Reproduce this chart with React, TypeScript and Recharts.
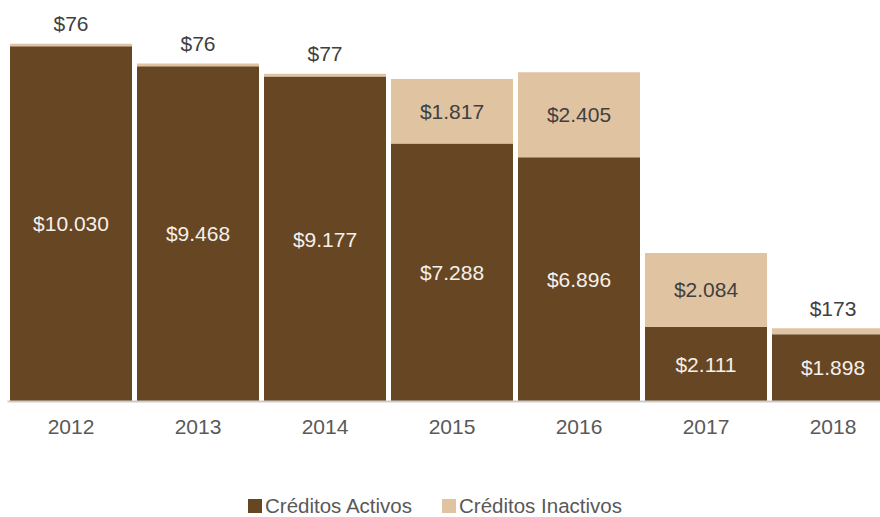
import React from "react";
import { BarChart, Bar, XAxis, YAxis, Legend, LabelList } from "recharts";

const years = ["2012", "2013", "2014", "2015", "2016", "2017", "2018"];
const activos = [10030, 9468, 9177, 7288, 6896, 2111, 1898];
const inactivos = [76, 76, 77, 1817, 2405, 2084, 173];

const DARK = "#674624";
const LIGHT = "#E0C3A0";
const FONT = "'Liberation Sans', Arial, sans-serif";

const data = years.map((year, i) => ({ year, activos: activos[i], inactivos: inactivos[i] }));

const fmt = (v: number) => "$" + String(v).replace(/\B(?=(\d{3})+(?!\d))/g, ".");

function ActivoLabel(props: any) {
  const { x, y, width, height, value } = props;
  return (
    <text x={x + width / 2} y={y + height / 2} textAnchor="middle" dominantBaseline="central" fill="#F5F0EA" fontSize={21} fontFamily={FONT}>
      {fmt(value)}
    </text>
  );
}

function InactivoLabel(props: any) {
  const { x, y, width, height, value } = props;
  // thin segments get their label above the bar
  const cy = height < 30 ? y - 20 : y + height / 2;
  return (
    <text x={x + width / 2} y={cy} textAnchor="middle" dominantBaseline="central" fill="#404040" fontSize={21} fontFamily={FONT}>
      {fmt(value)}
    </text>
  );
}

function LegendContent() {
  const items = [
    { name: "Créditos Activos", color: DARK },
    { name: "Créditos Inactivos", color: LIGHT },
  ];
  return (
    <div style={{ display: "flex", justifyContent: "center", gap: 30, fontFamily: FONT, fontSize: 20.5, color: "#595959", paddingRight: 10 }}>
      {items.map((it) => (
        <div key={it.name} style={{ display: "flex", alignItems: "center" }}>
          <span style={{ display: "inline-block", width: 14, height: 14, background: it.color, marginRight: 3 }} />
          <span>{it.name}</span>
        </div>
      ))}
    </div>
  );
}

export default function App() {
  return (
    <div style={{ position: "absolute", left: 0, top: 0, width: 880, height: 517, overflow: "hidden", background: "#fff" }}>
      <BarChart width={897} height={517} data={data} margin={{ top: 12, right: 0.5, left: 7.5, bottom: 75.5 }} barCategoryGap={2.5}>
        <XAxis
          dataKey="year"
          axisLine={{ stroke: "#CFCBC7", strokeWidth: 2 }}
          tickLine={false}
          height={40}
          tickMargin={12}
          tick={{ fill: "#595959", fontSize: 21, fontFamily: FONT }}
        />
        <YAxis hide domain={[0, 11000]} />
        <Legend layout="horizontal" verticalAlign="middle" align="center" content={<LegendContent />} wrapperStyle={{ top: 494, left: 0, width: 880 }} />
        <Bar dataKey="activos" name="Créditos Activos" stackId="a" fill={DARK} isAnimationActive={false}>
          <LabelList dataKey="activos" content={<ActivoLabel />} />
        </Bar>
        <Bar dataKey="inactivos" name="Créditos Inactivos" stackId="a" fill={LIGHT} isAnimationActive={false}>
          <LabelList dataKey="inactivos" content={<InactivoLabel />} />
        </Bar>
      </BarChart>
    </div>
  );
}
